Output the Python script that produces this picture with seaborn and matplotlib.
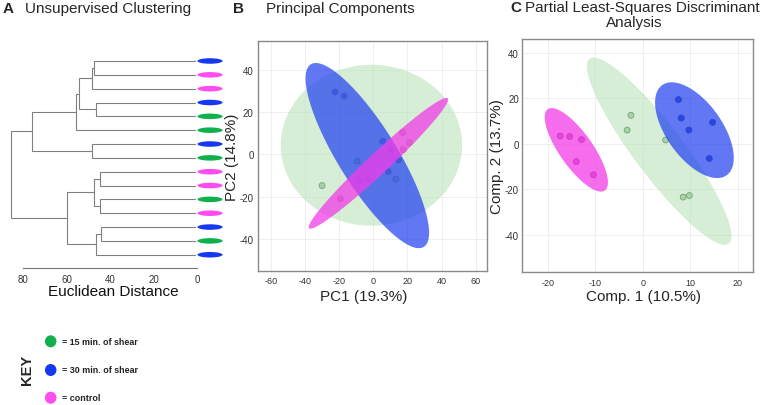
import numpy as np
import pandas as pd
import seaborn as sns
import matplotlib.pyplot as plt
from matplotlib.patches import Ellipse

sns.set_style("white")
plt.rcParams['font.family'] = ['Liberation Sans', 'DejaVu Sans']
plt.rcParams['axes.unicode_minus'] = False

W, H = 760, 406

# group colours
colors = {'15 min': '#10b04c', '30 min': '#1638f2', 'control': '#ff4cf0'}
point_colors = {'15 min': '#86cf86', '30 min': '#3550ea', 'control': '#e545dc'}
ell_colors = {'15 min': '#b5e0b5', '30 min': '#2442f0', 'control': '#f23ce8'}
ell_alpha = {'15 min': 0.55, '30 min': 0.72, 'control': 0.75}

# --- A: dendrogram (leaves top to bottom) ---
leaf_groups = ['30 min', 'control', 'control', '30 min', '15 min', '15 min', '30 min', '15 min',
               'control', 'control', '15 min', 'control', '30 min', '15 min', '30 min']
# merges: (node a, node b, euclidean distance); new nodes numbered from 15
merges = [(0, 1, 47.3), (15, 2, 48.2), (3, 4, 46.4), (16, 17, 54.4), (18, 5, 55.7),
          (6, 7, 48.2), (19, 20, 75.9), (8, 9, 44.8), (10, 11, 44.5), (22, 23, 47.3),
          (12, 13, 44.1), (25, 14, 46.4), (24, 26, 60.0), (21, 27, 85.8)]
dist_ticks = [80, 60, 40, 20, 0]

# --- B: PCA scores ---
pca_group = ['15 min'] * 5 + ['30 min'] * 5 + ['control'] * 5
pca_x = [-30.0, -9.5, 13.2, 21.2, -2.9, -22.4, -17.1, 5.5, 14.8, 8.8, 17.1, 17.5, -19.3, 10.5, -8.0]
pca_y = [-14.8, -3.2, -11.7, 5.5, -11.7, 29.5, 27.6, 6.2, -2.7, -8.2, 10.3, 2.2, -21.0, 2.2, -12.5]
# ellipses: centre, major half-axis vector, minor half-axis vector (data units)
pca_ell_center = {'15 min': (-1.1, 4.3), '30 min': (-3.5, -0.6), 'control': (3.0, -4.25)}
pca_ell_major = {'15 min': (53.1, 0.0), '30 min': (33.1, -43.2), 'control': (40.6, 30.75)}
pca_ell_minor = {'15 min': (0.0, 38.1), '30 min': (14.6, 7.4), 'control': (4.2, -3.6)}

# --- C: PLS-DA scores ---
pls_group = ['control'] * 5 + ['15 min'] * 5 + ['30 min'] * 5
pls_x = [-17.4, -15.4, -12.9, -14.0, -10.4, -2.5, -3.3, 4.8, 8.5, 9.8, 7.5, 8.1, 9.7, 14.7, 14.0]
pls_y = [3.4, 3.2, 1.8, -7.9, -13.7, 12.5, 6.0, 1.6, -23.5, -22.8, 19.4, 11.3, 6.0, 9.4, -6.5]
pls_ell_center = {'control': (-14.0, -2.7), '15 min': (3.46, -3.3), '30 min': (10.87, 5.95)}
pls_ell_major = {'control': (6.0, -17.9), '15 min': (14.64, -40.7), '30 min': (6.77, -19.85)}
pls_ell_minor = {'control': (2.89, 4.18), '15 min': (4.2, 6.5), '30 min': (4.77, 7.06)}

key_labels = ['= 15 min. of shear', '= 30 min. of shear', '= control']
key_groups = ['15 min', '30 min', 'control']


def px_axes(l, t, r, b):
    return fig.add_axes([l / W, 1 - b / H, (r - l) / W, (b - t) / H])


def draw_ellipse(ax, c, major, minor, color, alpha):
    t = np.linspace(0, 2 * np.pi, 300)
    xs = c[0] + major[0] * np.cos(t) + minor[0] * np.sin(t)
    ys = c[1] + major[1] * np.cos(t) + minor[1] * np.sin(t)
    ax.fill(xs, ys, color=color, alpha=alpha, lw=0, zorder=3)


def score_panel(ax, df, centers, majors, minors, order, xticks, yticks, ypad):
    ax.set_axisbelow(True)
    sns.scatterplot(data=df, x='x', y='y', hue='group', palette=point_colors, s=18,
                    edgecolor='#444444', linewidth=0.6, legend=False, zorder=2, ax=ax)
    for g in order:
        draw_ellipse(ax, centers[g], majors[g], minors[g], ell_colors[g], ell_alpha[g])
    ax.set_xticks(xticks)
    ax.set_yticks(yticks)
    ax.grid(True, color='#ececec', lw=0.6)
    ax.tick_params(axis='x', length=0, labelsize=6.5, pad=4, colors='#333333')
    ax.tick_params(axis='y', length=0, labelsize=7, pad=ypad, colors='#333333')
    for s in ax.spines.values():
        s.set_color('#8a8a8a')
        s.set_linewidth(1.0)


fig = plt.figure(figsize=(W / 100, H / 100), dpi=100)

# ---------- A ----------
axA = px_axes(5, 50, 225, 269.3)
pos = {i: (float(i), 0.9) for i in range(len(leaf_groups))}
for k, (a, b, h) in enumerate(merges):
    ya, xa = pos[a]
    yb, xb = pos[b]
    axA.plot([xa, h, h, xb], [ya, ya, yb, yb], color='#808080', lw=0.8, solid_joinstyle='miter')
    pos[len(leaf_groups) + k] = ((ya + yb) / 2, h)
for i, g in enumerate(leaf_groups):
    axA.add_patch(Ellipse((-6.0, i), 11.6, 0.4, color=colors[g], lw=0))
axA.set_xlim(88.4, -12.9)
axA.set_ylim(14.98, -0.867)
axA.set_xticks(dist_ticks)
axA.set_yticks([])
for s in ['top', 'right', 'left']:
    axA.spines[s].set_visible(False)
axA.spines['bottom'].set_bounds(80, 0)
axA.spines['bottom'].set_color('#777777')
axA.spines['bottom'].set_linewidth(0.8)
axA.tick_params(axis='x', length=3, width=0.8, color='#777777', labelsize=7, pad=1,
                labelcolor='#333333')
axA.set_xlabel('Euclidean Distance', fontsize=11, color='#111111')
axA.xaxis.set_label_coords((113 - 5) / 220, -(285.5 - 269.3) / 219.3)

# ---------- B ----------
axB = px_axes(257.7, 42.3, 486.5, 271.7)
dfB = pd.DataFrame({'x': pca_x, 'y': pca_y, 'group': pca_group})
score_panel(axB, dfB, pca_ell_center, pca_ell_major, pca_ell_minor,
            ['15 min', '30 min', 'control'], [-60, -40, -20, 0, 20, 40, 60], [-40, -20, 0, 20, 40], 3)
axB.set_xlim(-67.7, 66.3)
axB.set_ylim(-55.1, 53.5)
axB.set_xlabel('PC1 (19.3%)', fontsize=11)
axB.set_ylabel('PC2 (14.8%)', fontsize=11)
axB.xaxis.set_label_coords((364 - 257.7) / 228.8, -(290 - 271.7) / 229.4)
axB.yaxis.set_label_coords(-(257.7 - 239) / 228.8, 0.5)

# ---------- C ----------
axC = px_axes(521.7, 39.5, 752.5, 273.3)
dfC = pd.DataFrame({'x': pls_x, 'y': pls_y, 'group': pls_group})
score_panel(axC, dfC, pls_ell_center, pls_ell_major, pls_ell_minor,
            ['15 min', '30 min', 'control'], [-20, -10, 0, 10, 20], [-40, -20, 0, 20, 40], 2)
axC.set_xlim(-25.5, 23.1)
axC.set_ylim(-56.6, 46.3)
axC.set_xlabel('Comp. 1 (10.5%)', fontsize=11)
axC.set_ylabel('Comp. 2 (13.7%)', fontsize=11)
axC.xaxis.set_label_coords((644 - 521.7) / 230.8, -(290 - 273.3) / 233.8)
axC.yaxis.set_label_coords(-(521.7 - 504) / 230.8, 0.5)

# ---------- titles ----------
def ftext(x, y, s, **kw):
    fig.text(x / W, 1 - y / H, s, va='baseline', **kw)


ftext(3, 12.7, 'A', fontsize=11, fontweight='bold')
ftext(25, 12.7, 'Unsupervised Clustering', fontsize=11)
ftext(233, 12.7, 'B', fontsize=11, fontweight='bold')
ftext(266, 12.7, 'Principal Components', fontsize=11)
ftext(510, 11.8, 'C', fontsize=11, fontweight='bold')
ftext(525, 11.8, 'Partial Least-Squares Discriminant', fontsize=11)
ftext(634, 27.5, 'Analysis', fontsize=11, ha='center')

# ---------- key ----------
axK = fig.add_axes([0, 0, 1, 1], facecolor='none')
axK.set_xlim(0, W)
axK.set_ylim(H, 0)
axK.axis('off')
key_y = [342.3, 371, 398.7]
for g, lab, y in zip(key_groups, key_labels, key_y):
    axK.add_patch(Ellipse((50.7, y), 11.5, 12, color=colors[g], lw=0))
    axK.text(62, y, lab, fontsize=6.4, fontweight='bold', va='center', color='#222222')
axK.text(27, 370, 'KEY', fontsize=10.5, fontweight='bold', rotation=90, ha='center', va='center')

fig.savefig('out.png', dpi=100)
